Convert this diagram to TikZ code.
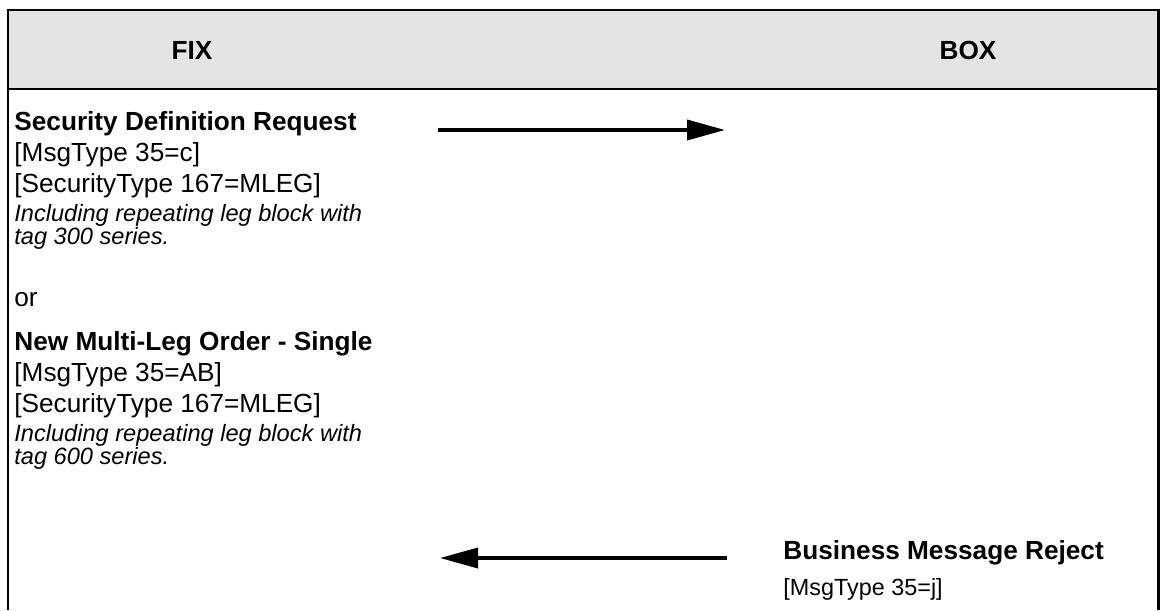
\documentclass[tikz,border=0pt]{standalone}
\usepackage{fontspec}
\setmainfont{Liberation Sans}
\usetikzlibrary{arrows.meta}
\definecolor{hdrgray}{RGB}{228,228,228}
\begin{document}
\begin{tikzpicture}[x=0.5pt,y=-0.5pt,
  frame/.style={line width=1.4pt},
  hdr/.style={inner sep=0pt,font=\fontsize{13.1}{15}\selectfont\bfseries},
  ttl/.style={anchor=base west,inner sep=0pt,font=\fontsize{13.1}{15}\selectfont\bfseries},
  txt/.style={anchor=base west,inner sep=0pt,font=\fontsize{13.1}{15}\selectfont},
  note/.style={anchor=base west,inner sep=0pt,font=\fontsize{11.8}{14}\selectfont\itshape},
  small/.style={anchor=base west,inner sep=0pt,font=\fontsize{11.7}{14}\selectfont},
  msg/.style={line width=1.8pt,-{Triangle[length=19pt,width=10pt]}}]
\useasboundingbox (0,0) rectangle (1160,610);
\path[fill=hdrgray] (8,10) rectangle (1158.5,89);
\draw[frame] (8,610) -- (8,10) -- (1158.5,10) -- (1158.5,610);
\draw[frame] (8,89) -- (1158.5,89);
\node[hdr] (fix) at (192,50) {FIX};
\node[hdr] (box) at (968,50) {BOX};
% left column
\node[ttl] (sdr) at (14,130) {Security Definition Request};
\node[txt] (mt1) at (14,161) {[MsgType 35=c]};
\node[txt] (st1) at (14,192) {[SecurityType 167=MLEG]};
\node[note] (in1) at (14,221) {Including repeating leg block with};
\node[note] (tg1) at (14,244) {tag 300 series.};
\node[txt] (or) at (14,306) {or};
\node[ttl] (nmo) at (14,350) {New Multi-Leg Order - Single};
\node[txt] (mt2) at (14,381) {[MsgType 35=AB]};
\node[txt] (st2) at (14,412) {[SecurityType 167=MLEG]};
\node[note] (in2) at (14,441) {Including repeating leg block with};
\node[note] (tg2) at (14,464) {tag 600 series.};
% right column
\node[ttl] (bmr) at (783,559) {Business Message Reject};
\node[small] (mt3) at (783,595) {[MsgType 35=j]};
% arrows
\coordinate (a1s) at (438,130);
\coordinate (a1e) at (725,130);
\coordinate (a2s) at (727,558);
\coordinate (a2e) at (440,558);
\draw[msg] (a1s) -- (a1e);
\draw[msg] (a2s) -- (a2e);
\end{tikzpicture}
\end{document}
